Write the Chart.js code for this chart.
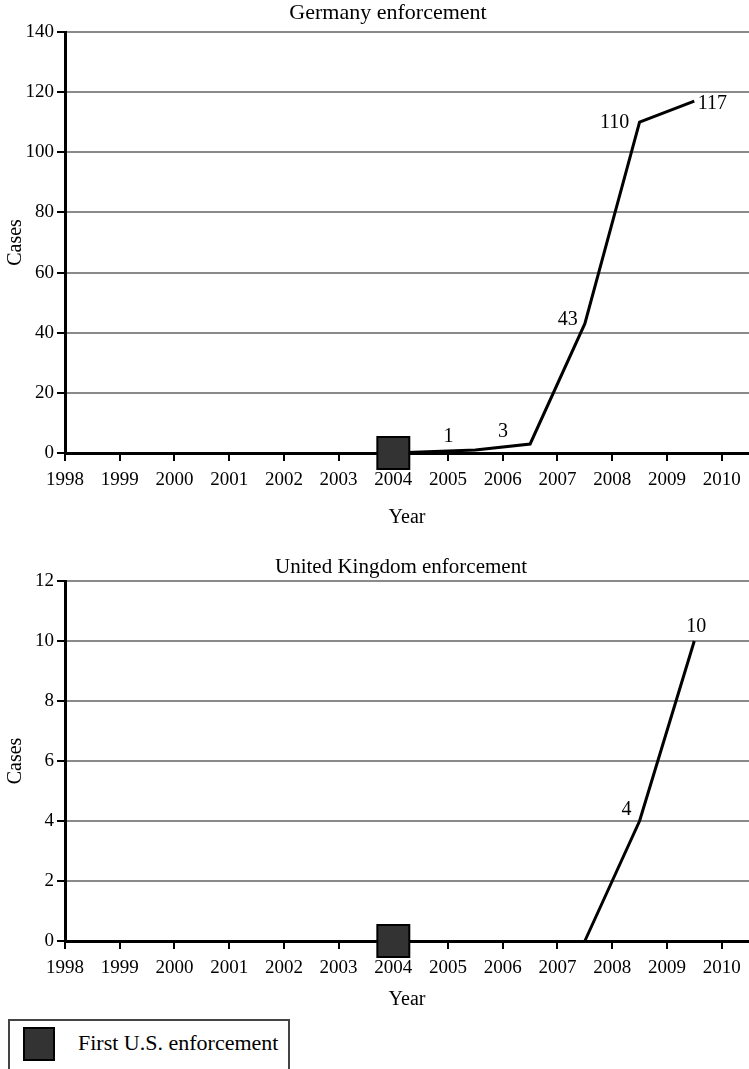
<!DOCTYPE html>
<html>
<head>
<meta charset="utf-8">
<script src="https://cdn.jsdelivr.net/npm/chart.js@4/dist/chart.umd.min.js"></script>
<style>
  body { margin: 0; background: #fff; width: 749px; height: 1069px; overflow: hidden; position: relative; font-family: 'Liberation Serif', serif; }
  #c1 { position: absolute; left: 0; top: 0; }
  #c2 { position: absolute; left: 0; top: 540px; }
  #legend { position: absolute; left: 8px; top: 1019px; width: 282px; height: 60px; border: 2px solid #444; box-sizing: border-box; }
  #legend .sq { position: absolute; left: 13px; top: 6px; width: 32px; height: 34px; background: #333; border: 2px solid #000; box-sizing: border-box; }
  #legend .txt { position: absolute; left: 68px; top: 9px; font-size: 22px; color: #000; white-space: nowrap; }
</style>
</head>
<body>
<canvas id="c1" width="749" height="534"></canvas>
<canvas id="c2" width="749" height="476"></canvas>
<div id="legend"><div class="sq"></div><div class="txt">First U.S. enforcement</div></div>
<script>
// data
var xMin = 1998
var xMax = 2010.5
var firstUsEnforcement = 2004

var germanyYears = [2004, 2005.5, 2006.5, 2007.5, 2008.5, 2009.5]
var germanyCases = [0, 1, 3, 43, 110, 117]

var ukYears = [2007.5, 2008.5, 2009.5]
var ukCases = [0, 4, 10]

// where the value labels sit relative to their point (px)
var germanyLabelOffsets = [[0, 0], [-27, -13], [-27, -12], [-17, -4], [-25, 1], [18, 3]]
var ukLabelOffsets = [[0, 0], [-13, -11], [2, -14]]

Chart.defaults.font.family = "'Liberation Serif', serif"
Chart.defaults.font.size = 19
Chart.defaults.color = '#000'

function pontos(anos, valores) {
    var lista = []
    for (var i = 0; i < anos.length; i++) {
        lista.push({ x: anos[i], y: valores[i] })
    }
    return lista
}

var tituloPlugin = {
    id: 'tituloPlugin',
    afterDraw: function (chart) {
        var opts = chart.options.plugins.tituloPlugin
        var ctx = chart.ctx
        ctx.save()
        ctx.font = opts.size + "px 'Liberation Serif', serif"
        ctx.fillStyle = '#000'
        ctx.textAlign = 'center'
        ctx.textBaseline = 'middle'
        ctx.fillText(opts.text, opts.x, opts.y)

        // value labels of the line
        ctx.font = "20px 'Liberation Serif', serif"
        var meta = chart.getDatasetMeta(1)
        var valores = chart.data.datasets[1].data
        for (var i = 0; i < meta.data.length; i++) {
            if (valores[i].y == 0) continue
            var p = meta.data[i]
            var off = opts.offsets[i]
            ctx.fillText(String(valores[i].y), p.x + off[0], p.y + off[1])
        }
        ctx.restore()
    }
}

function criarGrafico(id, titulo, tituloX, tituloY, tituloSize, anos, valores, yMax, yStep, padTop, xHeight, offsets) {
    var config = {
        type: 'line',
        data: {
            datasets: [{
                label: 'First U.S. enforcement',
                data: [{ x: firstUsEnforcement, y: 0 }],
                pointStyle: 'rect',
                pointRadius: 22.6,
                pointBackgroundColor: '#333',
                pointBorderColor: '#000',
                pointBorderWidth: 2,
                showLine: false,
                clip: false,
                order: 0
            }, {
                label: 'Cases',
                data: pontos(anos, valores),
                borderColor: '#000',
                borderWidth: 3,
                pointRadius: 0,
                tension: 0,
                fill: false,
                clip: false,
                order: 1
            }]
        },
        options: {
            responsive: false,
            animation: false,
            layout: { autoPadding: false, padding: { top: padTop, right: 0, left: 0, bottom: 0 } },
            plugins: {
                legend: { display: false },
                tooltip: { enabled: false },
                tituloPlugin: { text: titulo, x: tituloX, y: tituloY, size: tituloSize, offsets: offsets }
            },
            scales: {
                x: {
                    type: 'linear',
                    min: xMin,
                    max: xMax,
                    afterFit: function (scale) {
                        scale.height = xHeight
                        scale.paddingLeft = 0
                        scale.paddingRight = 0
                    },
                    ticks: {
                        stepSize: 1,
                        includeBounds: false,
                        autoSkip: false,
                        maxRotation: 0,
                        padding: 8,
                        callback: function (v) { return String(v) }
                    },
                    grid: { drawOnChartArea: false, drawTicks: true, tickLength: 8, color: '#000', lineWidth: 2 },
                    border: { color: '#000', width: 3 },
                    title: { display: true, text: 'Year', font: { size: 20 } }
                },
                y: {
                    min: 0,
                    max: yMax,
                    afterFit: function (scale) { scale.width = 65 },
                    ticks: { stepSize: yStep, padding: 3 },
                    grid: { color: '#8a8a8a', lineWidth: 2, tickLength: 8, tickColor: '#000', tickWidth: 2 },
                    border: { color: '#000', width: 3 },
                    title: { display: true, text: 'Cases', font: { size: 20 } }
                }
            }
        },
        plugins: [tituloPlugin]
    }

    return new Chart(document.getElementById(id), config)
}

criarGrafico('c1', 'Germany enforcement', 388, 13, 22, germanyYears, germanyCases, 140, 20, 32, 81, germanyLabelOffsets)
criarGrafico('c2', 'United Kingdom enforcement', 401, 27, 21, ukYears, ukCases, 12, 2, 41, 75, ukLabelOffsets)
</script>
</body>
</html>
